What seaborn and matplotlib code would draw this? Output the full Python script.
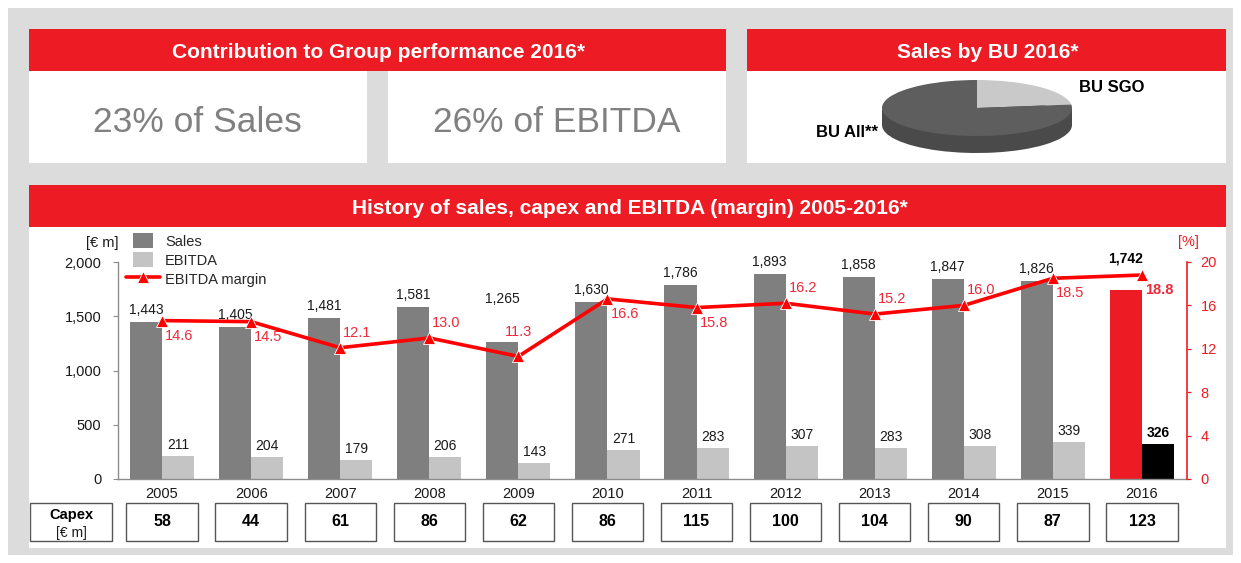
import numpy as np
import pandas as pd
import matplotlib
matplotlib.use("Agg")
import matplotlib.pyplot as plt
import matplotlib.transforms as mtransforms
from matplotlib.patches import Rectangle, Patch
from matplotlib.lines import Line2D
from matplotlib.legend_handler import HandlerPatch
from matplotlib.ticker import StrMethodFormatter
import seaborn as sns

# ---------------- data ----------------
years = ["2005", "2006", "2007", "2008", "2009", "2010", "2011", "2012", "2013", "2014", "2015", "2016"]
sales = [1443, 1405, 1481, 1581, 1265, 1630, 1786, 1893, 1858, 1847, 1826, 1742]
ebitda = [211, 204, 179, 206, 143, 271, 283, 307, 283, 308, 339, 326]
ebitda_margin = [14.6, 14.5, 12.1, 13.0, 11.3, 16.6, 15.8, 16.2, 15.2, 16.0, 18.5, 18.8]
capex = [58, 44, 61, 86, 62, 86, 115, 100, 104, 90, 87, 123]
bu_labels = ["BU SGO", "BU All**"]
bu_shares = [23, 77]
kpi_texts = ["23% of Sales", "26% of EBITDA"]
header_texts = ["Contribution to Group performance 2016*", "Sales by BU 2016*",
                "History of sales, capex and EBITDA (margin) 2005-2016*"]
left_unit = "[€ m]"
right_unit = "[%]"
y_left_ticks = [0, 500, 1000, 1500, 2000]
y_right_ticks = [0, 4, 8, 12, 16, 20]

# ---------------- style ----------------
sns.set_style("white")
plt.rcParams["font.family"] = ["Liberation Sans", "DejaVu Sans"]

RED = "#ed1c24"
LINE_RED = "#ff0000"
LABEL_RED = "#ee2a3a"
SALES_C = "#7f7f7f"
EBITDA_C = "#c4c4c4"
GRAY_BG = "#dcdcdc"
TXT = "#1a1a1a"

W, H = 1241, 563
fig = plt.figure(figsize=(W / 100, H / 100), dpi=100)
fig.patch.set_facecolor("white")


def fx(x):
    return x / W


def fy(y):
    return 1 - y / H


def rect(x0, y0, x1, y1, color, z=-10, fill=True, ec="none", lw=0):
    fig.patches.append(Rectangle((fx(x0), fy(y1)), (x1 - x0) / W, (y1 - y0) / H,
                                 transform=fig.transFigure, facecolor=color if fill else "none",
                                 edgecolor=ec, linewidth=lw, zorder=z, fill=fill))


# background panels
rect(8, 8, 1233, 555, GRAY_BG, z=-20)
rect(29, 29, 726, 71, RED)
rect(29, 71, 367, 163, "white")
rect(388, 71, 726, 163, "white")
rect(747, 29, 1226, 71, RED)
rect(747, 71, 1226, 163, "white")
rect(29, 185, 1226, 227, RED)
rect(29, 227, 1226, 548, "white")

# headers
fig.text(fx(378), fy(58.5), header_texts[0], ha="center", va="baseline", color="white",
         fontsize=15, fontweight="bold")
fig.text(fx(987.5), fy(58.5), header_texts[1], ha="center", va="baseline", color="white",
         fontsize=15, fontweight="bold")
fig.text(fx(629.5), fy(214), header_texts[2], ha="center", va="baseline", color="white",
         fontsize=15, fontweight="bold")

# KPI texts
fig.text(fx(197.5), fy(132), kpi_texts[0], ha="center", va="baseline", color="#808080", fontsize=25.5)
fig.text(fx(556.5), fy(132), kpi_texts[1], ha="center", va="baseline", color="#808080", fontsize=25.5)

# ---------------- pie (pseudo 3D) ----------------
pax = fig.add_axes([fx(882), fy(153), (1072 - 882) / W, (153 - 80) / H])
depth = 17 / 28
wp = dict(linewidth=0, edgecolor="none", antialiased=True)
pax.add_patch(Rectangle((-1, -depth), 2, depth, facecolor="#4a4a4a", edgecolor="none", linewidth=0))
pax.pie(bu_shares, colors=["#4a4a4a", "#4a4a4a"], startangle=90, counterclock=False,
        center=(0, -depth), radius=1, wedgeprops=wp)
pax.pie(bu_shares, colors=["#c9c9c9", "#5e5e5e"], startangle=90, counterclock=False,
        center=(0, 0), radius=1, wedgeprops=wp)
pax.set_aspect("auto")
pax.set_xlim(-1, 1)
pax.set_ylim(-1 - depth, 1)
pax.axis("off")
fig.text(fx(1079), fy(88), bu_labels[0], ha="left", va="center", fontsize=12, fontweight="bold", color="black")
fig.text(fx(878), fy(133), bu_labels[1], ha="right", va="center", fontsize=12, fontweight="bold", color="black")

# ---------------- main chart ----------------
ax = fig.add_axes([fx(117.5), fy(479), (1186.5 - 117.5) / W, (479 - 262) / H])
ax.set_facecolor("none")

df = pd.DataFrame({
    "Year": years * 2,
    "Metric": ["Sales"] * len(years) + ["EBITDA"] * len(years),
    "Value": sales + ebitda,
})
sns.barplot(data=df, x="Year", y="Value", hue="Metric", hue_order=["Sales", "EBITDA"],
            palette={"Sales": SALES_C, "EBITDA": EBITDA_C}, width=0.72, saturation=1,
            errorbar=None, legend=False, edgecolor="none", linewidth=0, ax=ax)
# highlight 2016
ax.containers[0][len(years) - 1].set_facecolor(RED)
ax.containers[1][len(years) - 1].set_facecolor("black")

n = len(years)
ax.set_xlim(-0.5, n - 0.5)
ax.set_ylim(0, 2000)
ax.set_xlabel("")
ax.set_ylabel("")
ax.set_yticks(y_left_ticks)
ax.yaxis.set_major_formatter(StrMethodFormatter("{x:,.0f}"))
ax.tick_params(axis="y", length=3.5, width=0.8, color="#8c8c8c", pad=8, labelsize=10.5, labelcolor=TXT)
ax.tick_params(axis="x", which="major", length=0, pad=5.8, labelsize=10.5, labelcolor=TXT)
ax.set_xticks(np.arange(-0.5, n, 1.0), minor=True)
ax.tick_params(axis="x", which="minor", length=3, width=0.8, color="#8c8c8c")
for s in ["top", "right"]:
    ax.spines[s].set_visible(False)
for s in ["left", "bottom"]:
    ax.spines[s].set_color("#8c8c8c")
    ax.spines[s].set_linewidth(1.0)

# value labels
bar_off = 0.18
sales_lift = {4: 43, n - 1: 31}
for i, v in enumerate(sales):
    bold = i == n - 1
    ax.annotate(f"{v:,}", xy=(i - bar_off, v), xytext=(0, sales_lift.get(i, 12)),
                textcoords="offset pixels", ha="center", va="center", fontsize=10,
                color="black" if bold else TXT, fontweight="bold" if bold else "normal",
                annotation_clip=False)
for i, v in enumerate(ebitda):
    bold = i == n - 1
    ax.annotate(f"{v:,}", xy=(i + bar_off, v), xytext=(0, 11), textcoords="offset pixels",
                ha="center", va="center", fontsize=10, color="black" if bold else TXT,
                fontweight="bold" if bold else "normal", annotation_clip=False)

# margin line
ax2 = ax.twinx()
ax2.set_position(ax.get_position())
sns.lineplot(x=np.arange(n), y=ebitda_margin, ax=ax2, color=LINE_RED, linewidth=2.6,
             marker="^", markersize=9, markeredgecolor="white", markeredgewidth=0.6,
             legend=False, zorder=5)
ax2.set_ylim(0, 20)
ax2.set_yticks(y_right_ticks)
ax2.set_ylabel("")
ax2.tick_params(axis="y", length=3, width=0.9, color=RED, pad=7, labelsize=10.5, labelcolor=RED)
for s in ["top", "left", "bottom"]:
    ax2.spines[s].set_visible(False)
ax2.spines["right"].set_color(RED)
ax2.spines["right"].set_linewidth(1.2)

placement = ["below", "below", "above", "above", "center", "below",
             "below", "above", "above", "above", "below", "below"]
for i, (m, p) in enumerate(zip(ebitda_margin, placement)):
    bold = i == n - 1
    if p == "below":
        xt, ha = (3, -15), "left"
    elif p == "above":
        xt, ha = (3, 15), "left"
    else:
        xt, ha = (0, 24), "center"
    ax2.annotate(f"{m:.1f}", xy=(i, m), xytext=xt, textcoords="offset pixels", ha=ha,
                 va="center", fontsize=10.5, color=LABEL_RED,
                 fontweight="bold" if bold else "normal", annotation_clip=False)

# units
fig.text(fx(118), fy(243), left_unit, ha="right", va="center", fontsize=10.5, color=TXT)
fig.text(fx(1188), fy(242), right_unit, ha="center", va="center", fontsize=10.5, color=RED)


# legend
def legend_square(legend, orig_handle, xdescent, ydescent, width, height, fontsize):
    w = 15.0
    return Rectangle((-xdescent + (width - w) / 2, -ydescent), w, height)


handles = [Patch(facecolor=SALES_C, edgecolor="none"),
           Patch(facecolor=EBITDA_C, edgecolor="none"),
           Line2D([], [], color=LINE_RED, lw=2.6, marker="^", markersize=9,
                  markeredgecolor="white", markeredgewidth=0.6)]
fig.legend(handles, ["Sales", "EBITDA", "EBITDA margin"], loc="upper left",
           bbox_to_anchor=(fx(126), fy(233.5)), bbox_transform=fig.transFigure,
           frameon=False, fontsize=10.5, handlelength=2.33, handleheight=1.17,
           labelspacing=0.25, handletextpad=0.34, borderpad=0, borderaxespad=0,
           handler_map={Patch: HandlerPatch(patch_func=legend_square)})

# capex row
blend = mtransforms.blended_transform_factory(ax.transData, fig.transFigure)
for i, c in enumerate(capex):
    ax.add_patch(Rectangle((i - 0.4, fy(541)), 0.8, (541 - 503) / H, transform=blend,
                           fill=False, edgecolor="#555555", linewidth=1.0, clip_on=False))
    ax.text(i, fy(522), f"{c}", transform=blend, ha="center", va="center",
            fontsize=11.5, fontweight="bold", color="black", clip_on=False)
rect(30, 503, 112, 541, "none", z=-5, fill=False, ec="#555555", lw=1.0)
fig.text(fx(71), fy(515), "Capex", ha="center", va="center", fontsize=10.5, fontweight="bold", color="black")
fig.text(fx(71), fy(533), left_unit, ha="center", va="center", fontsize=10, color=TXT)

fig.savefig("out.png", dpi=100, facecolor=fig.get_facecolor())
